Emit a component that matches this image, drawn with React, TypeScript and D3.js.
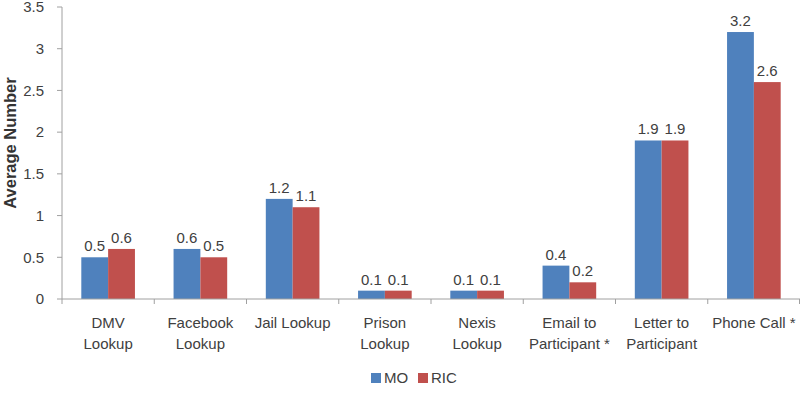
import React from "react";
import * as d3 from "d3";

const categories = [
  ["DMV", "Lookup"],
  ["Facebook", "Lookup"],
  ["Jail Lookup"],
  ["Prison", "Lookup"],
  ["Nexis", "Lookup"],
  ["Email to", "Participant *"],
  ["Letter to", "Participant"],
  ["Phone Call *"],
];
const seriesNames = ["MO", "RIC"];
const moValues = [0.5, 0.6, 1.2, 0.1, 0.1, 0.4, 1.9, 3.2];
const ricValues = [0.6, 0.5, 1.1, 0.1, 0.1, 0.2, 1.9, 2.6];
const yTicks = [0, 0.5, 1, 1.5, 2, 2.5, 3, 3.5];
const colors = ["#4F81BD", "#C0504D"];

export default function App() {
  const W = 800, H = 400;
  const left = 62, right = 800, top = 7, bottom = 299;
  const font = "'Liberation Sans', Arial, sans-serif";
  const textColor = "#404040";
  const axisColor = "#A0A0A0";
  const keys = categories.map((_, i) => String(i));
  const x = d3.scaleBand().domain(keys).range([left, right]).paddingInner(0).paddingOuter(0);
  const inner = d3.scaleBand().domain(seriesNames).range([0, x.bandwidth()]).paddingInner(0).paddingOuter(0.72);
  const y = d3.scaleLinear().domain([0, 3.5]).range([bottom, top]);
  const series = [moValues, ricValues];
  const fmt = d3.format(".1f");
  const fs = 15;

  return (
    <svg width={W} height={H} style={{ position: "absolute", left: 0, top: 0, background: "#fff" }}>
      <g fontFamily={font} fill={textColor}>
        {/* y axis */}
        <line x1={left} x2={left} y1={top} y2={bottom} stroke={axisColor} />
        {yTicks.map((t) => (
          <g key={t}>
            <line x1={left - 5} x2={left} y1={y(t)} y2={y(t)} stroke={axisColor} />
            <text x={left - 18} y={y(t)} dy="0.35em" textAnchor="end" fontSize={fs}>
              {t}
            </text>
          </g>
        ))}
        <text
          transform={`translate(${10},${143}) rotate(-90)`}
          textAnchor="middle"
          dy="0.35em"
          fontSize={16.5}
          fontWeight="bold"
          fill="#333"
        >
          Average Number
        </text>
        {/* bars */}
        {keys.map((k, i) => (
          <g key={k}>
            {series.map((vals, s) => {
              const bx = (x(k) as number) + (inner(seriesNames[s]) as number);
              const bw = inner.bandwidth();
              return (
                <g key={s}>
                  <rect x={bx} y={y(vals[i])} width={bw} height={bottom - y(vals[i])} fill={colors[s]} />
                  <text x={bx + bw / 2} y={y(vals[i]) - 6} textAnchor="middle" fontSize={fs}>
                    {fmt(vals[i])}
                  </text>
                </g>
              );
            })}
          </g>
        ))}
        {/* x axis */}
        <line x1={left} x2={right} y1={bottom} y2={bottom} stroke={axisColor} />
        {keys.map((k) => (
          <line key={k} x1={x(k)} x2={x(k)} y1={bottom} y2={bottom + 5} stroke={axisColor} />
        ))}
        <line x1={right - 0.5} x2={right - 0.5} y1={bottom} y2={bottom + 5} stroke={axisColor} />
        {categories.map((lines, i) => (
          <text key={i} x={(x(keys[i]) as number) + x.bandwidth() / 2} textAnchor="middle" fontSize={fs}>
            {lines.map((l, j) => (
              <tspan key={j} x={(x(keys[i]) as number) + x.bandwidth() / 2} y={328 + j * 21}>
                {l}
              </tspan>
            ))}
          </text>
        ))}
        {/* legend */}
        {seriesNames.map((n, s) => {
          const lx = 371 + s * 47;
          return (
            <g key={n}>
              <rect x={lx} y={373} width={10} height={10} fill={colors[s]} />
              <text x={lx + 13} y={378} dy="0.35em" fontSize={fs}>
                {n}
              </text>
            </g>
          );
        })}
      </g>
    </svg>
  );
}
